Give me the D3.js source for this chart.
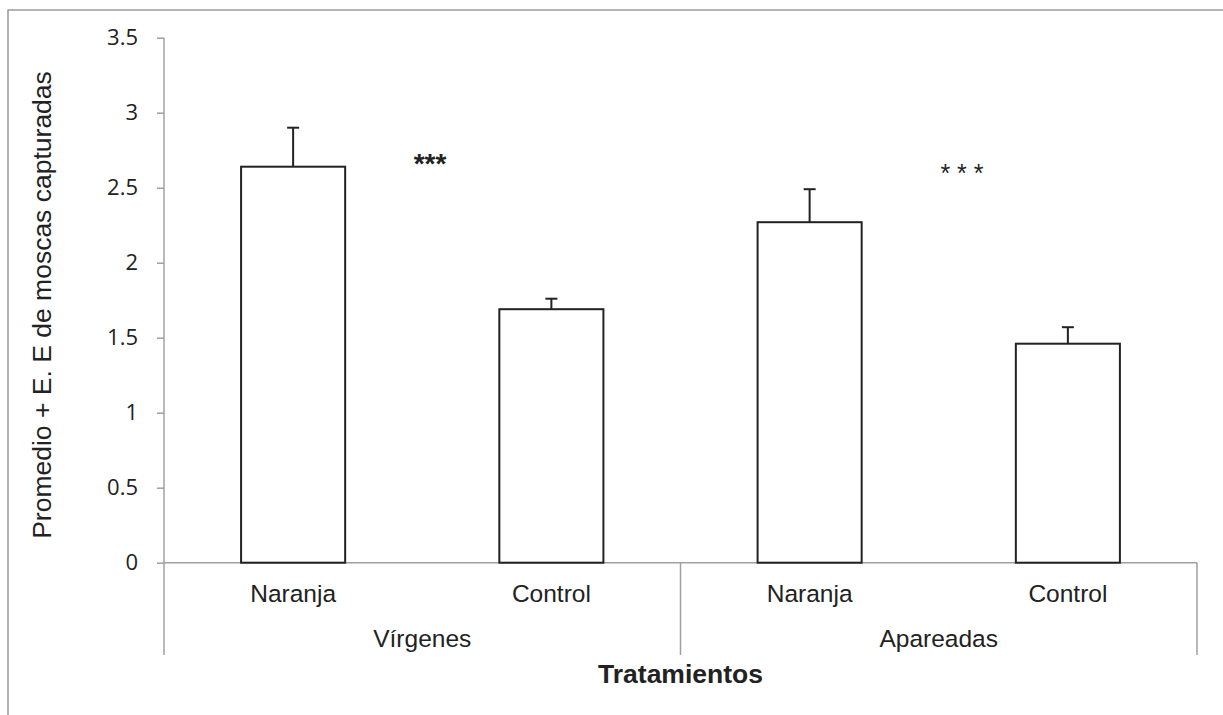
<!DOCTYPE html>
<html>
<head>
<meta charset="utf-8">
<script src="https://cdn.jsdelivr.net/npm/d3@7"></script>
<style>
  html, body { margin: 0; padding: 0; background: #fff; }
  svg { display: block; }
  text { fill: #222; }
</style>
</head>
<body>
<svg id="chart" width="1223" height="715"></svg>
<script>
// Mean flies captured per treatment, with standard error
const groups = ["Vírgenes", "Apareadas"];
const treatments = ["Naranja", "Control"];
const means = [2.64, 1.69, 2.27, 1.46];
const errors = [0.26, 0.07, 0.22, 0.11];
const yTicks = [0, 0.5, 1, 1.5, 2, 2.5, 3, 3.5];
const sigLabels = ["***", "* * *"];
const sigHeights = [2.70, 2.64];
const sigOffsets = [0.015, 0.045];   // fraction of group width, right of group centre

const yTitle = "Promedio + E. E de moscas capturadas";
const xTitle = "Tratamientos";

const svg = d3.select("#chart");
const W = 1223, H = 715;
const plotLeft = 164, plotRight = 1197, plotTop = 37.7, plotBase = 562.7, plotLower = 655;
const sans = "'Liberation Sans', Arial, sans-serif";

// outer frame
svg.append("rect")
  .attr("x", 8).attr("y", 10)
  .attr("width", W + 10).attr("height", H + 10)
  .attr("fill", "none").attr("stroke", "#9a9a9a").attr("stroke-width", 1.5);

const bars = [];
groups.forEach((g, gi) => treatments.forEach((t, ti) => {
  bars.push({ key: g + "|" + t, group: g, treatment: t,
              mean: means[gi * treatments.length + ti],
              err: errors[gi * treatments.length + ti] });
}));

const y = d3.scaleLinear().domain([0, 3.5]).range([plotBase, plotTop]);
const x = d3.scaleBand().domain(bars.map(d => d.key)).range([plotLeft, plotRight]).padding(0);
const xg = d3.scaleBand().domain(groups).range([plotLeft, plotRight]).padding(0);
const barW = x.bandwidth() * 0.403;

// y axis
const yAxis = d3.axisLeft(y).tickValues(yTicks).tickSize(7).tickPadding(19)
  .tickFormat(d => String(d));
const yG = svg.append("g").attr("transform", `translate(${plotLeft},0)`).call(yAxis);
yG.select(".domain").remove();
yG.selectAll(".tick line").attr("stroke", "#a0a0a0").attr("stroke-width", 1.5);
yG.selectAll(".tick text")
  .attr("font-family", "'Open Sans', sans-serif").attr("font-size", 22)
  .attr("fill", "#222");
svg.append("line").attr("x1", plotLeft).attr("x2", plotLeft).attr("y1", plotTop).attr("y2", plotLower)
  .attr("stroke", "#a0a0a0").attr("stroke-width", 1.5);

// category baseline and group dividers
svg.append("line").attr("x1", plotLeft).attr("x2", plotRight).attr("y1", plotBase).attr("y2", plotBase)
  .attr("stroke", "#a0a0a0").attr("stroke-width", 1.5);
svg.selectAll("line.div")
  .data(groups.slice(1).map(g => xg(g)).concat([plotRight]))
  .join("line").attr("class", "div")
  .attr("x1", d => d).attr("x2", d => d).attr("y1", plotBase).attr("y2", plotLower)
  .attr("stroke", "#a0a0a0").attr("stroke-width", 1.5);

// bars
svg.selectAll("rect.bar").data(bars).join("rect").attr("class", "bar")
  .attr("x", d => x(d.key) + (x.bandwidth() - barW) / 2)
  .attr("y", d => y(d.mean))
  .attr("width", barW)
  .attr("height", d => y(0) - y(d.mean))
  .attr("fill", "#fff").attr("stroke", "#222").attr("stroke-width", 2);

// error bars (upper half only)
const cx = d => x(d.key) + x.bandwidth() / 2;
svg.selectAll("line.err").data(bars).join("line").attr("class", "err")
  .attr("x1", cx).attr("x2", cx)
  .attr("y1", d => y(d.mean)).attr("y2", d => y(d.mean + d.err))
  .attr("stroke", "#222").attr("stroke-width", 2);
svg.selectAll("line.cap").data(bars).join("line").attr("class", "cap")
  .attr("x1", d => cx(d) - 6).attr("x2", d => cx(d) + 6)
  .attr("y1", d => y(d.mean + d.err)).attr("y2", d => y(d.mean + d.err))
  .attr("stroke", "#222").attr("stroke-width", 2);

// treatment labels
svg.selectAll("text.cat").data(bars).join("text").attr("class", "cat")
  .attr("x", cx).attr("y", 601.5).attr("text-anchor", "middle")
  .attr("font-family", sans).attr("font-size", 24.5)
  .text(d => d.treatment);

// group labels
svg.selectAll("text.grp").data(groups).join("text").attr("class", "grp")
  .attr("x", g => xg(g) + xg.bandwidth() / 2).attr("y", 647).attr("text-anchor", "middle")
  .attr("font-family", sans).attr("font-size", 24.5)
  .text(g => g);

// significance marks
svg.selectAll("text.sig").data(groups).join("text").attr("class", "sig")
  .attr("x", (g, i) => xg(g) + xg.bandwidth() * (0.5 + sigOffsets[i]))
  .attr("y", (g, i) => y(sigHeights[i]) + 15)
  .attr("text-anchor", "middle")
  .attr("font-family", sans)
  .attr("font-size", (g, i) => i === 0 ? 28 : 25)
  .attr("font-weight", (g, i) => i === 0 ? "bold" : "normal")
  .text((g, i) => sigLabels[i]);

// axis titles
svg.append("text")
  .attr("transform", `translate(${(plotLeft + plotRight) / 2},683)`)
  .attr("text-anchor", "middle")
  .attr("font-family", sans).attr("font-size", 26.5)
  .attr("font-weight", "bold")
  .text(xTitle);
svg.append("text")
  .attr("transform", `translate(51,305) rotate(-90)`)
  .attr("text-anchor", "middle")
  .attr("font-family", sans).attr("font-size", 26.5)
  .text(yTitle);
</script>
</body>
</html>
